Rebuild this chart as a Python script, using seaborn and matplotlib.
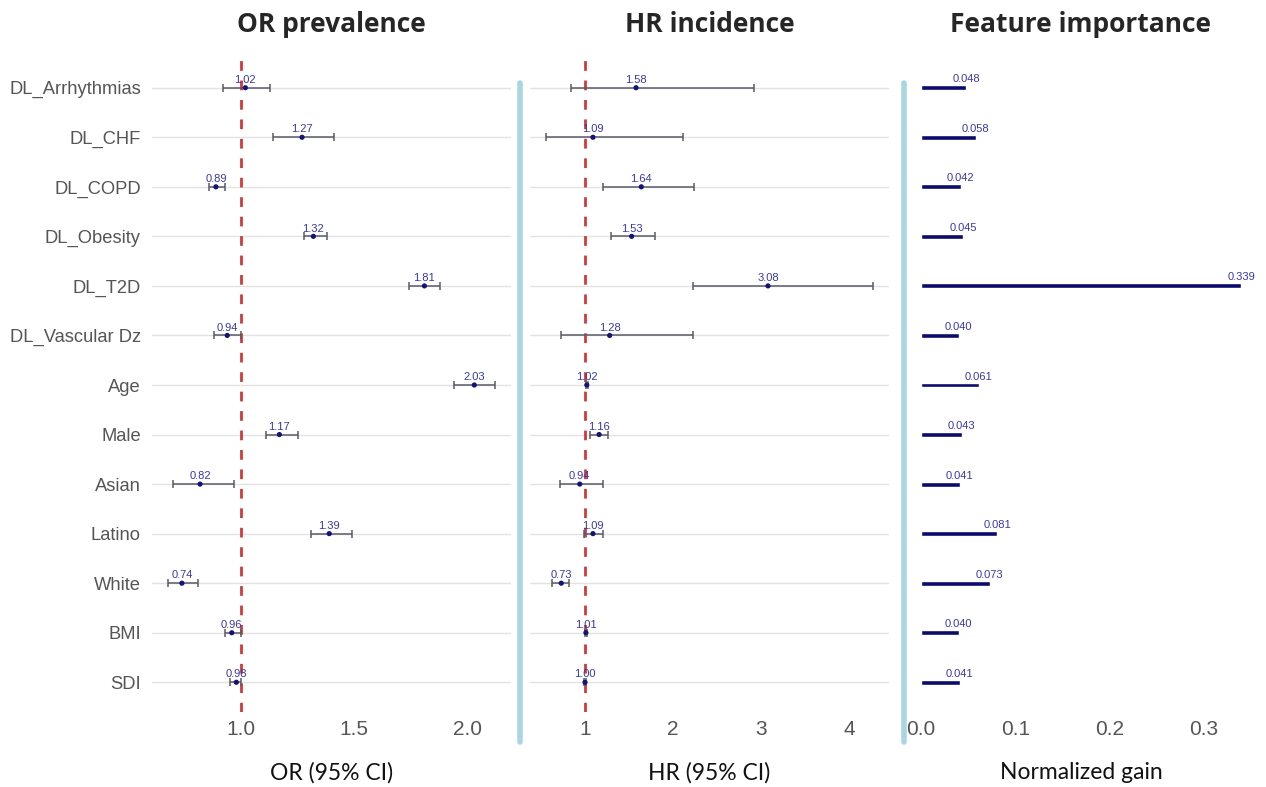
import numpy as np
import pandas as pd
import matplotlib
matplotlib.use('Agg')
import matplotlib.pyplot as plt
from matplotlib.lines import Line2D
import seaborn as sns

# ---- data ----
features = ['DL_Arrhythmias', 'DL_CHF', 'DL_COPD', 'DL_Obesity', 'DL_T2D',
            'DL_Vascular Dz', 'Age', 'Male', 'Asian', 'Latino', 'White', 'BMI', 'SDI']

or_est = [1.02, 1.27, 0.89, 1.32, 1.81, 0.94, 2.03, 1.17, 0.82, 1.39, 0.74, 0.96, 0.98]
or_lo = [0.92, 1.14, 0.86, 1.28, 1.74, 0.88, 1.94, 1.11, 0.70, 1.31, 0.68, 0.93, 0.95]
or_hi = [1.13, 1.41, 0.93, 1.38, 1.88, 1.00, 2.12, 1.25, 0.97, 1.49, 0.81, 1.00, 1.00]

hr_est = [1.58, 1.09, 1.64, 1.53, 3.08, 1.28, 1.02, 1.16, 0.94, 1.09, 0.73, 1.01, 1.00]
hr_lo = [0.84, 0.56, 1.20, 1.29, 2.23, 0.73, 1.01, 1.06, 0.72, 0.99, 0.63, 1.00, 0.99]
hr_hi = [2.92, 2.11, 2.24, 1.79, 4.27, 2.23, 1.03, 1.26, 1.20, 1.20, 0.82, 1.02, 1.01]

gain = [0.048, 0.058, 0.042, 0.045, 0.339, 0.040, 0.061, 0.043, 0.041, 0.081, 0.073, 0.040, 0.041]

or_ticks = [1.0, 1.5, 2.0]
hr_ticks = [1, 2, 3, 4]
gain_ticks = [0.0, 0.1, 0.2, 0.3]

sns.set_style('white')
plt.rcParams['font.family'] = ['Liberation Sans', 'DejaVu Sans']

TITLE_FONT = 'Open Sans'
XLAB_FONT = 'Lato'
LABEL_BLUE = '#3838a8'
POINT_COL = '#141478'
TICK_GRAY = '#555555'
SEP_BLUE = '#a8d6e4'

df = pd.DataFrame({
    'feature': features, 'pos': np.arange(len(features)),
    'or_est': or_est, 'or_lo': or_lo, 'or_hi': or_hi,
    'hr_est': hr_est, 'hr_lo': hr_lo, 'hr_hi': hr_hi,
    'gain': gain,
})
n = len(df)


def expand(lo, hi, frac=0.05):
    span = hi - lo
    return lo - span * frac, hi + span * frac


def style_axis(ax, title, xlabel):
    ax.set_ylim(n - 1 + 0.6, -0.6)
    for s in ax.spines.values():
        s.set_visible(False)
    ax.tick_params(axis='x', length=2.5, width=0.8, color='#aaaaaa',
                   labelsize=15, labelcolor=TICK_GRAY, pad=3)
    ax.set_title(title, fontsize=19, fontweight='bold', family=TITLE_FONT,
                 pad=19)
    ax.set_xlabel(xlabel, fontsize=16.5, family=XLAB_FONT, labelpad=17,
                  color='#111111')
    ax.set_ylabel('')


def forest_panel(ax, est, lo, hi, ticks, ticklabels, title, xlabel):
    for p in df['pos']:
        ax.axhline(p, color='#e3e3e3', lw=1.0, zorder=0)
    ax.axvline(1, color='#d23a3a', lw=2.0, ls=(0, (3.5, 3.5)), zorder=1)
    ax.errorbar(df[est], df['pos'],
                xerr=[df[est] - df[lo], df[hi] - df[est]],
                fmt='none', ecolor='#5a5a66', elinewidth=1.1,
                capsize=3, capthick=1.1, zorder=2)
    sns.scatterplot(data=df, x=est, y='pos', ax=ax, color=POINT_COL,
                    s=14, edgecolor='none', zorder=3, legend=False)
    for _, r in df.iterrows():
        ax.annotate(f"{r[est]:.2f}", (r[est], r['pos']),
                    xytext=(0, 2), textcoords='offset points',
                    ha='center', va='bottom', fontsize=8, color=LABEL_BLUE)
    ax.set_xlim(*expand(df[lo].min(), df[hi].max()))
    ax.set_xticks(ticks)
    ax.set_xticklabels(ticklabels)
    style_axis(ax, title, xlabel)


fig = plt.figure(figsize=(12.66, 7.87), dpi=100)
W, H = 1266, 787
top, bottom = 58, 712
ax1 = fig.add_axes([152 / W, 1 - bottom / H, 359 / W, (bottom - top) / H])
ax2 = fig.add_axes([530 / W, 1 - bottom / H, 359 / W, (bottom - top) / H])
ax3 = fig.add_axes([905 / W, 1 - bottom / H, 352 / W, (bottom - top) / H])

forest_panel(ax1, 'or_est', 'or_lo', 'or_hi', or_ticks,
             [f"{t:.1f}" for t in or_ticks], 'OR prevalence', 'OR (95% CI)')
ax1.set_yticks(df['pos'])
ax1.set_yticklabels(features)
ax1.tick_params(axis='y', length=0, labelsize=13.2, labelcolor=TICK_GRAY, pad=8)

forest_panel(ax2, 'hr_est', 'hr_lo', 'hr_hi', hr_ticks,
             [str(t) for t in hr_ticks], 'HR incidence', 'HR (95% CI)')
ax2.set_yticks([])

# feature importance bars
sns.barplot(data=df, x='gain', y='feature', orient='h', ax=ax3,
            color='#0b0b6c', saturation=1, width=0.1)
for i, g in enumerate(gain):
    ax3.annotate(f"{g:.3f}", (g, i), xytext=(0, 2.5), textcoords='offset points',
                 ha='center', va='bottom', fontsize=8, color=LABEL_BLUE)
ax3.set_xlim(*expand(0, max(gain)))
ax3.set_xticks(gain_ticks)
ax3.set_xticklabels([f"{t:.1f}" for t in gain_ticks])
style_axis(ax3, 'Feature importance', 'Normalized gain')
ax3.set_yticks([])

# light blue separators between panels
for xs in (520, 904):
    fig.add_artist(Line2D([xs / W, xs / W], [1 - 83 / H, 1 - 742 / H],
                          transform=fig.transFigure, color=SEP_BLUE, lw=4))

fig.savefig('out.png', dpi=100)
